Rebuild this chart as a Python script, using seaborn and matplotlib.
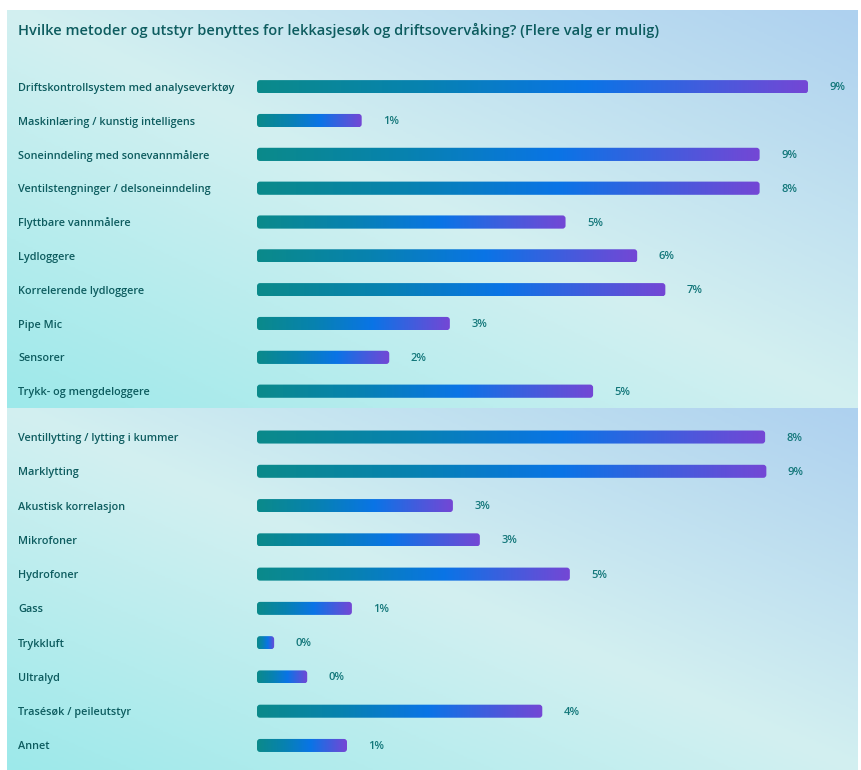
import numpy as np
import pandas as pd
import matplotlib
matplotlib.use("Agg")
import matplotlib.pyplot as plt
import seaborn as sns
from matplotlib.colors import LinearSegmentedColormap
from matplotlib.patches import FancyBboxPatch

# --- Data ---
tittel = "Hvilke metoder og utstyr benyttes for lekkasjesøk og driftsovervåking? (Flere valg er mulig)"

metoder_1 = [
    "Driftskontrollsystem med analyseverktøy",
    "Maskinlæring / kunstig intelligens",
    "Soneinndeling med sonevannmålere",
    "Ventilstengninger / delsoneinndeling",
    "Flyttbare vannmålere",
    "Lydloggere",
    "Korrelerende lydloggere",
    "Pipe Mic",
    "Sensorer",
    "Trykk- og mengdeloggere",
]
andel_1 = [9.00, 1.71, 8.21, 8.21, 5.04, 6.21, 6.67, 3.15, 2.16, 5.49]
etikett_1 = ["9%", "1%", "9%", "8%", "5%", "6%", "7%", "3%", "2%", "5%"]

metoder_2 = [
    "Ventillytting / lytting i kummer",
    "Marklytting",
    "Akustisk korrelasjon",
    "Mikrofoner",
    "Hydrofoner",
    "Gass",
    "Trykkluft",
    "Ultralyd",
    "Trasésøk / peileutstyr",
    "Annet",
]
andel_2 = [8.30, 8.32, 3.20, 3.64, 5.11, 1.55, 0.28, 0.82, 4.66, 1.47]
etikett_2 = ["8%", "9%", "3%", "3%", "5%", "1%", "0%", "0%", "4%", "1%"]

# --- Style ---
W, H = 861, 770
FONT = "Open Sans"
LABEL_COL = "#0d5c5f"
PCT_COL = "#13777a"
PX_PER_UNIT = 61.22

bg_cmap = LinearSegmentedColormap.from_list("bg", ["#9de9ea", "#d3f0f1", "#aed1ef"])
bar_cmap = LinearSegmentedColormap.from_list(
    "bar", [(0.0, "#0b8a8a"), (0.3, "#0782b0"), (0.6, "#0a74e6"), (1.0, "#7447d5")]
)


def px_rect(left, top, right, bottom):
    return [left / W, 1 - bottom / H, (right - left) / W, (bottom - top) / H]


def draw_panel(fig, bg_box, ax_box, cats, vals, labels, bar_w):
    # gradient background
    bg = fig.add_axes(px_rect(*bg_box))
    gx, gy = np.meshgrid(np.linspace(0, 1, 300), np.linspace(0, 1, 200))
    bg.imshow((gx + gy) / 2, cmap=bg_cmap, aspect="auto", extent=[0, 1, 0, 1],
              origin="lower", vmin=0, vmax=1)
    bg.set_axis_off()

    ax = fig.add_axes(px_rect(*ax_box))
    ax.patch.set_alpha(0)
    df = pd.DataFrame({"metode": cats, "andel": vals})
    sns.barplot(data=df, x="andel", y="metode", orient="h", ax=ax,
                width=bar_w, color="#0a74e6", errorbar=None)

    n = len(cats)
    xmax = (ax_box[2] - ax_box[0]) / PX_PER_UNIT
    ax.set_xlim(0, xmax)
    ax.set_ylim(n - 0.5, -0.5)
    row_px = (ax_box[3] - ax_box[1]) / n
    aspect = PX_PER_UNIT / row_px
    radius = 3.0 / PX_PER_UNIT

    # replace plain bars by rounded gradient bars
    grad = np.linspace(0, 1, 256).reshape(1, -1)
    for p in list(ax.patches):
        x0, y0, w, h = p.get_x(), p.get_y(), p.get_width(), p.get_height()
        p.remove()
        box = FancyBboxPatch((x0, y0), w, h,
                             boxstyle=f"round,pad=0,rounding_size={min(radius, w / 2)}",
                             mutation_aspect=aspect, facecolor="none", edgecolor="none")
        ax.add_patch(box)
        im = ax.imshow(grad, cmap=bar_cmap, aspect="auto",
                       extent=(x0, x0 + w, y0 + h, y0), vmin=0, vmax=1)
        im.set_clip_path(box)
    ax.set_xlim(0, xmax)
    ax.set_ylim(n - 0.5, -0.5)

    for i, (v, lab) in enumerate(zip(vals, labels)):
        ax.annotate(lab, xy=(v, i + 0.03), xytext=(15.5, 0), textcoords="offset points",
                    va="center", ha="left", fontsize=8, color=PCT_COL,
                    family=FONT, fontweight="semibold")

    # category labels on the left edge
    pad_pt = (ax_box[0] - 18) * 72 / 100
    ax.tick_params(axis="y", length=0, pad=pad_pt)
    for t in ax.get_yticklabels():
        t.set_horizontalalignment("left")
        t.set_fontsize(7.8)
        t.set_color(LABEL_COL)
        t.set_family(FONT)
        t.set_fontweight("semibold")
    ax.set_xlabel("")
    ax.set_ylabel("")
    ax.xaxis.set_visible(False)
    sns.despine(ax=ax, left=True, bottom=True)
    return ax


sns.set_style("white")
fig = plt.figure(figsize=(W / 100, H / 100), dpi=100, facecolor="white")

draw_panel(fig, (7, 10, 858, 407.5), (257, 69.8, 857, 408.1),
           metoder_1, andel_1, etikett_1, 0.39)
draw_panel(fig, (7, 407.5, 858, 770), (257, 419.9, 857, 762.6),
           metoder_2, andel_2, etikett_2, 0.38)

fig.text(18 / W, 1 - 30 / H, tittel, ha="left", va="center", fontsize=10.5,
         color=LABEL_COL, family=FONT, fontweight="semibold")

fig.savefig("out.png", dpi=100, facecolor="white")
